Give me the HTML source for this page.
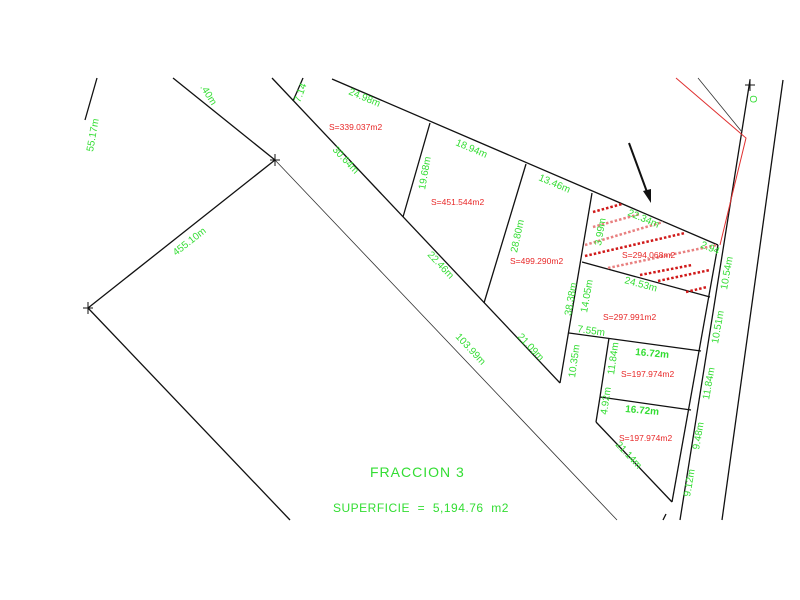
<!DOCTYPE html>
<html><head><style>
html,body{margin:0;padding:0;background:#fff;}
svg{display:block;}
.g{fill:#33dd33;font-family:"Liberation Sans",sans-serif;font-size:10px;}
.r{fill:#e82828;font-family:"Liberation Sans",sans-serif;font-size:8.5px;}
</style></head><body>
<svg width="800" height="600" viewBox="0 0 800 600" xmlns="http://www.w3.org/2000/svg">
<rect width="800" height="600" fill="#fff"/>
<g stroke="#111" stroke-width="1.3" fill="none">
<line x1="97" y1="78" x2="85" y2="120"/>
<line x1="173" y1="78" x2="275" y2="160"/>
<line x1="275" y1="160" x2="88" y2="308"/>
<line x1="88" y1="308" x2="290" y2="520"/>
<line x1="272" y1="78" x2="560" y2="383"/>
<line x1="332" y1="79" x2="718" y2="245"/>
<line x1="293" y1="101" x2="303" y2="78"/>
<line x1="430" y1="123" x2="403" y2="217"/>
<line x1="526" y1="164" x2="484" y2="303"/>
<line x1="592" y1="193" x2="560" y2="383"/>
<line x1="582" y1="262" x2="710" y2="297"/>
<line x1="569" y1="333" x2="701" y2="351"/>
<line x1="609" y1="338" x2="600" y2="397"/>
<line x1="600" y1="397" x2="596" y2="422"/>
<line x1="596" y1="422" x2="672" y2="502"/>
<line x1="600" y1="397" x2="691" y2="410"/>
<line x1="718" y1="245" x2="672" y2="502"/>
<line x1="750" y1="80" x2="680" y2="520"/>
<line x1="783" y1="80" x2="722" y2="520"/>
<line x1="663" y1="520" x2="666" y2="514"/>
</g>
<g stroke="#333" stroke-width="0.8">
<line x1="275" y1="160" x2="617" y2="520"/>
<line x1="698" y1="78" x2="742" y2="132"/>
</g>
<g stroke="#e03030" stroke-width="1" fill="none">
<polyline points="676,78 746,138 720,245"/>
</g>
<g stroke="#111" stroke-width="1">
<line x1="270" y1="160" x2="280" y2="160"/><line x1="275" y1="154" x2="275" y2="166"/>
<line x1="83" y1="308" x2="93" y2="308"/><line x1="88" y1="302" x2="88" y2="314"/>
<line x1="745" y1="85" x2="755" y2="85"/><line x1="750" y1="79" x2="750" y2="91"/>
</g>
<g stroke-width="2.5" stroke-dasharray="2.5,2">
<line x1="593" y1="212" x2="622" y2="204" stroke="#d01818"/>
<line x1="593" y1="227" x2="640" y2="214" stroke="#e88080"/>
<line x1="585" y1="245" x2="663" y2="222" stroke="#e88080"/>
<line x1="585" y1="256" x2="685" y2="233" stroke="#d01818"/>
<line x1="608" y1="268" x2="717" y2="245" stroke="#e88080"/>
<line x1="640" y1="275" x2="692" y2="265" stroke="#d01818"/>
<line x1="658" y1="281" x2="710" y2="270" stroke="#d01818"/>
<line x1="686" y1="292" x2="707" y2="287" stroke="#d01818"/>
</g>
<line x1="629" y1="143" x2="647" y2="192" stroke="#111" stroke-width="2"/>
<polygon points="651,203 643,191 651,189" fill="#111"/>
<g class="g">
<text transform="translate(300,103) rotate(-70)">7.14</text>
<text transform="translate(348,94) rotate(23)">24.98m</text>
<text transform="translate(455,145) rotate(23)">18.94m</text>
<text transform="translate(538,180) rotate(23)">13.46m</text>
<text transform="translate(627,215) rotate(23)">22.34m</text>
<text transform="translate(700,247) rotate(23)">2.94</text>
<text transform="translate(624,283) rotate(15)">24.53m</text>
<text transform="translate(577,332) rotate(8)">7.55m</text>
<text transform="translate(635,355) rotate(5)" font-weight="bold">16.72m</text>
<text transform="translate(625,412) rotate(5)" font-weight="bold">16.72m</text>
<text transform="translate(332,150) rotate(47)">30.64m</text>
<text transform="translate(427,255) rotate(47)">22.46m</text>
<text transform="translate(517,337) rotate(47)">21.09m</text>
<text transform="translate(455,337) rotate(47)">103.99m</text>
<text transform="translate(615,445) rotate(47)">21.14m</text>
<text transform="translate(425,190) rotate(-80)">19.68m</text>
<text transform="translate(517,253) rotate(-78)">28.80m</text>
<text transform="translate(571,316) rotate(-80)">38.38m</text>
<text transform="translate(587,313) rotate(-80)">14.05m</text>
<text transform="translate(575,378) rotate(-82)">10.35m</text>
<text transform="translate(614,375) rotate(-82)">11.84m</text>
<text transform="translate(607,415) rotate(-82)">4.92m</text>
<text transform="translate(601,246) rotate(-80)">3.99m</text>
<text transform="translate(727,290) rotate(-80)">10.54m</text>
<text transform="translate(718,344) rotate(-80)">10.51m</text>
<text transform="translate(709,400) rotate(-80)">11.84m</text>
<text transform="translate(699,450) rotate(-80)">9.48m</text>
<text transform="translate(690,497) rotate(-80)">9.12m</text>
<text transform="translate(93,152) rotate(-80)">55.17m</text>
<text transform="translate(200,87) rotate(58)">.40m</text>
<text transform="translate(176,256) rotate(-38)">455.10m</text>
<text transform="translate(757,103) rotate(-90)">O</text>
<text x="370" y="477" font-size="14" letter-spacing="1">FRACCION  3</text>
<text x="333" y="512" font-size="12" letter-spacing="0.5" xml:space="preserve">SUPERFICIE  =  5,194.76  m2</text>
</g>
<g class="r">
<text x="329" y="130">S=339.037m2</text>
<text x="431" y="205">S=451.544m2</text>
<text x="510" y="264">S=499.290m2</text>
<text x="622" y="258">S=294.068m2</text>
<text x="603" y="320">S=297.991m2</text>
<text x="621" y="377">S=197.974m2</text>
<text x="619" y="441">S=197.974m2</text>
</g>
</svg>
</body></html>
